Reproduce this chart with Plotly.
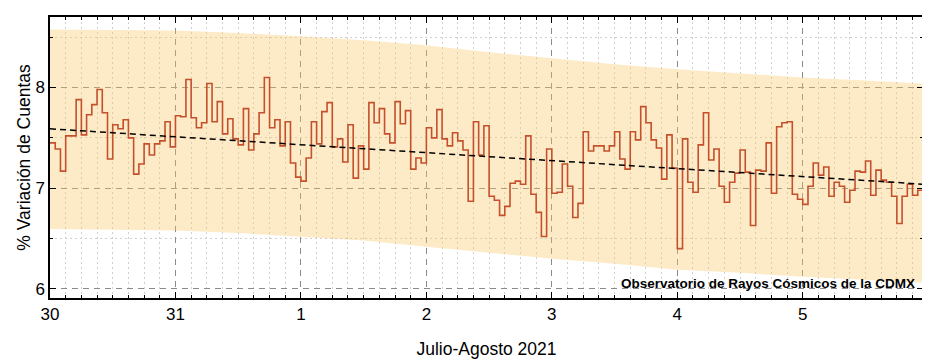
import pandas as pd
import plotly.graph_objects as go

# Hourly % variation of counts, 30 Jul 00:00 -> 5 Aug 23:00 (2021)
start_time = "2021-07-30 00:00"
jul30 = [7.45, 7.39, 7.17, 7.52, 7.52, 7.88, 7.53, 7.73, 7.83, 7.98, 7.75, 7.29,
         7.63, 7.59, 7.68, 7.50, 7.14, 7.24, 7.44, 7.33, 7.44, 7.47, 7.66, 7.41]
jul31 = [7.72, 7.71, 8.08, 7.70, 7.60, 7.65, 8.04, 7.66, 7.86, 7.54, 7.69, 7.49,
         7.43, 7.79, 7.38, 7.54, 7.75, 8.10, 7.60, 7.68, 7.42, 7.66, 7.25, 7.11]
aug01 = [7.07, 7.30, 7.66, 7.44, 7.76, 7.85, 7.41, 7.49, 7.26, 7.63, 7.10, 7.42,
         7.19, 7.85, 7.65, 7.79, 7.54, 7.45, 7.86, 7.64, 7.77, 7.19, 7.30, 7.25]
aug02 = [7.60, 7.50, 7.78, 7.49, 7.42, 7.55, 7.47, 7.38, 6.87, 7.66, 7.33, 7.62,
         6.92, 6.88, 6.73, 6.82, 7.05, 7.07, 7.04, 7.52, 6.94, 6.76, 6.52, 7.39]
aug03 = [6.95, 6.96, 7.24, 7.02, 6.71, 6.85, 7.56, 7.37, 7.42, 7.42, 7.37, 7.42,
         7.56, 7.29, 7.19, 7.56, 7.48, 7.81, 7.65, 7.48, 7.40, 7.09, 7.53, 7.20]
aug04 = [6.40, 7.49, 7.06, 6.96, 7.43, 7.75, 7.28, 7.39, 7.02, 6.86, 7.06, 7.15,
         7.38, 7.16, 6.63, 7.18, 7.17, 7.45, 6.95, 7.61, 7.65, 7.66, 6.94, 6.89]
aug05 = [6.84, 7.02, 7.25, 7.13, 7.21, 6.92, 7.06, 7.02, 6.86, 6.98, 7.17, 7.16,
         7.27, 6.93, 7.18, 7.08, 7.06, 6.92, 6.65, 6.92, 7.04, 6.93, 6.98, 7.18]

# Envelope (band) read at half-day steps
band_times = ["2021-07-30 00:00", "2021-07-30 12:00", "2021-07-31 00:00", "2021-07-31 12:00",
              "2021-08-01 00:00", "2021-08-01 12:00", "2021-08-02 00:00", "2021-08-02 12:00",
              "2021-08-03 00:00", "2021-08-03 12:00", "2021-08-04 00:00", "2021-08-04 12:00",
              "2021-08-05 00:00", "2021-08-05 12:00", "2021-08-05 23:00"]
band_upper = [8.575, 8.57, 8.565, 8.54, 8.51, 8.47, 8.42, 8.35, 8.29, 8.23, 8.18, 8.14,
              8.10, 8.07, 8.04]
band_lower = [6.596, 6.59, 6.58, 6.556, 6.52, 6.48, 6.42, 6.36, 6.30, 6.25, 6.19, 6.16,
              6.12, 6.09, 6.06]

# Linear trend end points
trend_times = ["2021-07-30 00:00", "2021-08-05 23:00"]
trend_values = [7.59, 7.04]

values = jul30 + jul31 + aug01 + aug02 + aug03 + aug04 + aug05
times = pd.date_range(start_time, periods=len(values), freq="h")

fig = go.Figure()
fig.add_trace(go.Scatter(x=band_times, y=band_lower, mode="lines",
                         line=dict(width=0), showlegend=False, hoverinfo="skip"))
fig.add_trace(go.Scatter(x=band_times, y=band_upper, mode="lines",
                         line=dict(width=0), fill="tonexty",
                         fillcolor="rgba(250,200,100,0.36)", showlegend=False,
                         hoverinfo="skip"))
fig.add_trace(go.Scatter(x=times, y=values, mode="lines", line_shape="hv",
                         line=dict(color="#C4502C", width=1.6), showlegend=False))
fig.add_trace(go.Scatter(x=trend_times, y=trend_values, mode="lines",
                         line=dict(color="black", width=1.5, dash="6px,4px"),
                         showlegend=False))

font = "Liberation Sans, Arial, sans-serif"
# page body has an 8px default margin: size/margins compensate for it
fig.update_layout(
    width=922, height=351,
    margin=dict(l=42, r=7, t=9, b=61),
    paper_bgcolor="white", plot_bgcolor="white",
    font=dict(family=font, size=17, color="black"),
    showlegend=False,
    annotations=[dict(text="<b>Observatorio de Rayos Cósmicos de la CDMX</b>",
                      xref="paper", yref="paper", x=0.993, y=0.053,
                      xanchor="right", yanchor="middle", showarrow=False,
                      font=dict(family=font, size=13.5, color="black"))],
)
fig.update_xaxes(
    type="date", range=["2021-07-30 00:00", "2021-08-05 23:00"],
    tick0="2021-07-30", dtick=86400000, tickformat="%-d",
    ticks="inside", ticklen=6, tickwidth=1, tickcolor="black",
    showline=True, linecolor="black", linewidth=1.5, mirror="allticks",
    showgrid=True, gridcolor="#8a8a8a", gridwidth=1, griddash="6px,5px",
    zeroline=False, automargin=False,
    minor=dict(dtick=3 * 3600000, ticks="inside", ticklen=3, tickcolor="black",
               showgrid=True, gridcolor="#d0d0d0", griddash="2px,3px"),
    title=dict(text="Julio-Agosto 2021", font=dict(size=17.5), standoff=20),
)
fig.update_yaxes(
    range=[5.91, 8.70], dtick=1, tick0=6,
    ticks="inside", ticklen=6, tickwidth=1, tickcolor="black",
    showline=True, linecolor="black", linewidth=1.5, mirror="allticks",
    showgrid=True, gridcolor="#8a8a8a", gridwidth=1, griddash="6px,5px",
    zeroline=False, automargin=False,
    minor=dict(dtick=0.5, ticks="inside", ticklen=3, tickcolor="black",
               showgrid=True, gridcolor="#d0d0d0", griddash="2px,3px"),
    title=dict(text="% Variación de Cuentas", font=dict(size=17.5), standoff=0),
)

fig.write_html("out.html")
